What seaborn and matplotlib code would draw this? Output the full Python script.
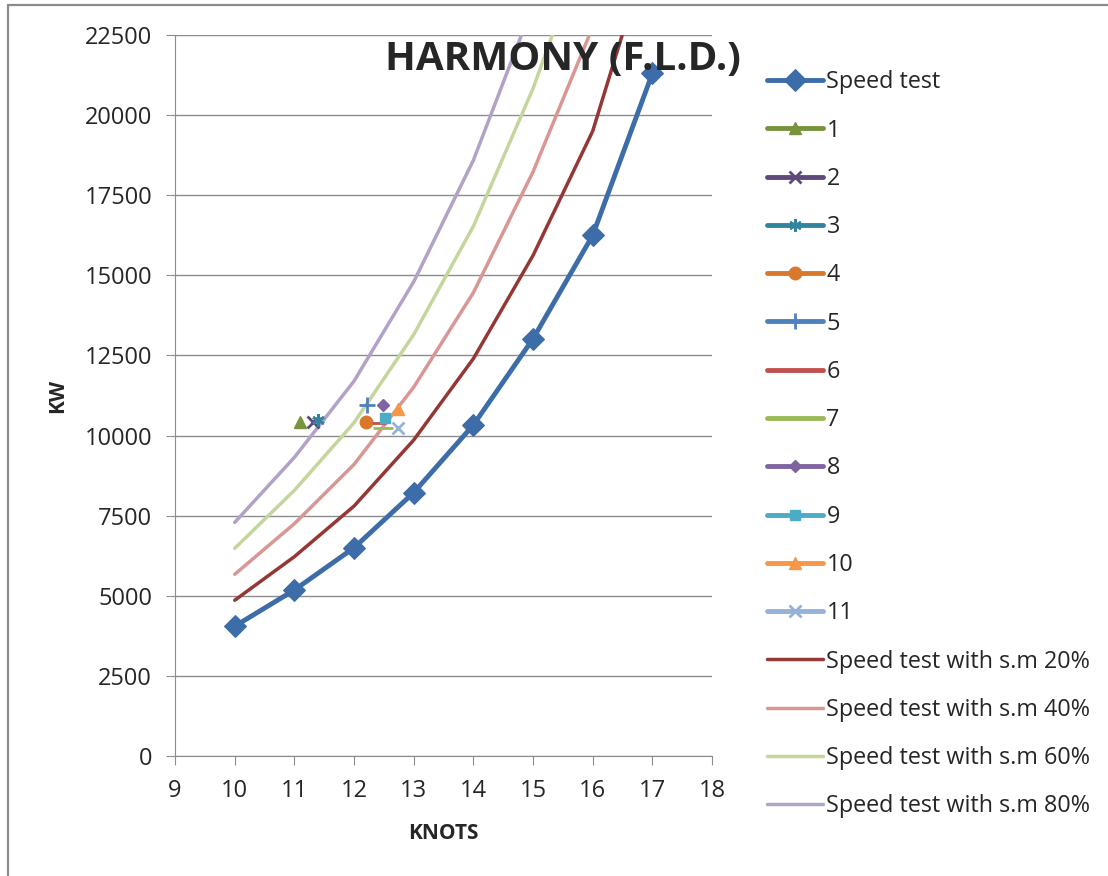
import matplotlib
matplotlib.use("Agg")
import matplotlib.pyplot as plt
from matplotlib.lines import Line2D
import seaborn as sns
import pandas as pd

# speed test curve and sea-margin variants (KW at each speed in knots)
knots = [10, 11, 12, 13, 14, 15, 16, 17]
speed_test = [4050, 5180, 6500, 8220, 10330, 13020, 16250, 21300]
sm20 = [4860, 6220, 7800, 9860, 12400, 15620, 19500, 25560]
sm40 = [5670, 7250, 9100, 11510, 14460, 18230, 22750, 29820]
sm60 = [6480, 8290, 10400, 13150, 16530, 20830, 26000, 34080]
sm80 = [7290, 9320, 11700, 14800, 18590, 23440, 29250, 38340]

# single observations 1..11
obs_names = ['1', '2', '3', '4', '5', '6', '7', '8', '9', '10', '11']
obs_knots = [11.09, 11.32, 11.40, 12.20, 12.21, 12.41, 12.49, 12.49, 12.52, 12.73, 12.74]
obs_kw = [10430, 10430, 10490, 10410, 10950, 10380, 10250, 10950, 10560, 10820, 10230]

obs_colors = ['#77933C', '#5F497A', '#31859C', '#D9782D', '#4F81BD', '#C0504D',
              '#9BBB59', '#8064A2', '#4BACC6', '#F79646', '#95B3D7']
obs_markers = ['^', 'x', (6, 2, 0), 'o', '+', '_', '_', 'D', 's', '^', 'x']
obs_msize = [8, 8, 9, 9, 12, 10, 14, 6, 7, 8, 9]

sns.set_style("white")
plt.rcParams['font.family'] = ['Open Sans', 'DejaVu Sans']

fig = plt.figure(figsize=(11.08, 8.76), dpi=100)
# chart-area frame (left and top edges only; the rest is cut off)
x0, y0 = 8 / 1108, 1 - 5 / 876
fig.add_artist(Line2D([x0, x0], [0, y0], transform=fig.transFigure, color='#8c8c8c', lw=1.6))
fig.add_artist(Line2D([x0, 1], [y0, y0], transform=fig.transFigure, color='#8c8c8c', lw=1.6))
ax = fig.add_axes([0.158, 0.137, 0.4846, 0.823])

df = pd.DataFrame({'knots': knots, 'kw': speed_test})
sns.lineplot(data=df, x='knots', y='kw', ax=ax, color='#3D6DA8', lw=3.5,
             marker='D', markersize=11, markeredgecolor='#3D6DA8', label='Speed test', zorder=5)

for name, xk, yk, c, m, ms in zip(obs_names, obs_knots, obs_kw, obs_colors, obs_markers, obs_msize):
    d = pd.DataFrame({'knots': [xk], 'kw': [yk]})
    thin = m in ('x', '+', '_') or isinstance(m, tuple)
    sns.lineplot(data=d, x='knots', y='kw', ax=ax, color=c, lw=3.5, marker=m,
                 markersize=ms, markeredgewidth=2 if thin else 1,
                 markeredgecolor=c, label=name, zorder=4)

for vals, c, lab in [(sm20, '#953735', 'Speed test with s.m 20%'),
                     (sm40, '#D99694', 'Speed test with s.m 40%'),
                     (sm60, '#C3D69B', 'Speed test with s.m 60%'),
                     (sm80, '#B3A2C7', 'Speed test with s.m 80%')]:
    d = pd.DataFrame({'knots': knots, 'kw': vals})
    sns.lineplot(data=d, x='knots', y='kw', ax=ax, color=c, lw=2.5, label=lab, zorder=3)

ax.set_xlim(9, 18)
ax.set_ylim(0, 22500)
ax.set_xticks(range(9, 19))
ax.set_yticks(range(0, 22501, 2500))
ax.yaxis.grid(True, color='#8c8c8c', lw=1)
ax.set_axisbelow(True)
for s in ['top', 'right']:
    ax.spines[s].set_visible(False)
for s in ['left', 'bottom']:
    ax.spines[s].set_color('#8c8c8c')
ax.tick_params(axis='both', direction='out', length=6.5, color='#8c8c8c',
               labelsize=17, left=True, bottom=True)
ax.tick_params(axis='y', pad=10)
ax.tick_params(axis='x', pad=10)
ax.set_xlabel('KNOTS', fontsize=15, fontweight='bold')
ax.set_ylabel('KW', fontsize=15, fontweight='bold')
ax.xaxis.set_label_coords(0.5, -0.093)
ax.yaxis.set_label_coords(-0.2, 0.5)

fig.text(563 / 1108, 1 - 59 / 876, 'HARMONY (F.L.D.)', fontsize=29, fontweight='bold',
         ha='center', va='center')

ax.legend(loc='upper left', bbox_to_anchor=(1.085, 0.964), frameon=False, fontsize=16.8,
          labelspacing=1.04, handlelength=2.4, handletextpad=0.15, borderaxespad=0)

fig.savefig('out.png', dpi=100)
